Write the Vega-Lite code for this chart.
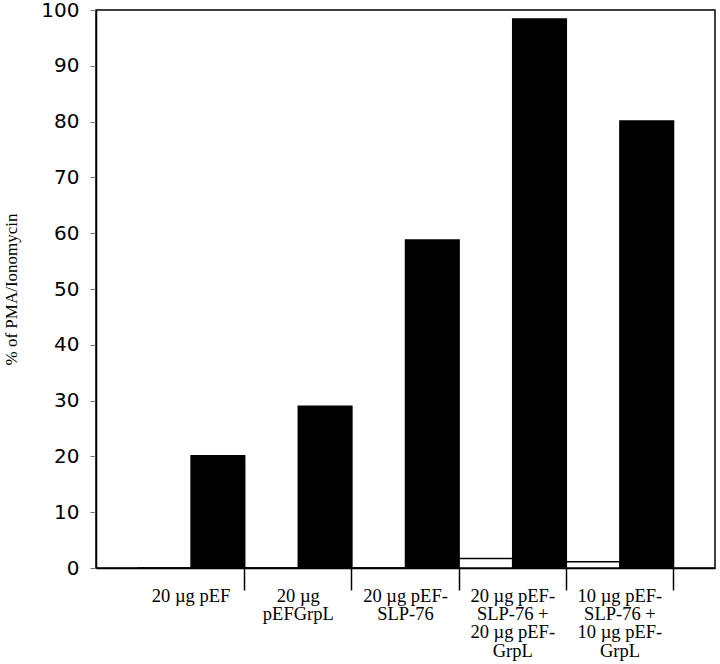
{
  "$schema": "https://vega.github.io/schema/vega-lite/v6.json",
  "width": 619,
  "height": 558,
  "autosize": "none",
  "padding": {"left": 96, "top": 10, "right": 5, "bottom": 96},
  "background": "white",
  "config": {"view": {"stroke": "black", "strokeWidth": 1.5}},
  "data": {
    "values": [
      {"construct": "20 µg pEF", "series": "control", "percent": 0},
      {"construct": "20 µg pEF", "series": "treated", "percent": 20.1},
      {"construct": "20 µg\npEFGrpL", "series": "control", "percent": 0},
      {"construct": "20 µg\npEFGrpL", "series": "treated", "percent": 29},
      {"construct": "20 µg pEF-\nSLP-76", "series": "control", "percent": 0},
      {"construct": "20 µg pEF-\nSLP-76", "series": "treated", "percent": 58.8},
      {"construct": "20 µg pEF-\nSLP-76 +\n20 µg pEF-\nGrpL", "series": "control", "percent": 1.7},
      {"construct": "20 µg pEF-\nSLP-76 +\n20 µg pEF-\nGrpL", "series": "treated", "percent": 98.4},
      {"construct": "10 µg pEF-\nSLP-76 +\n10 µg pEF-\nGrpL", "series": "control", "percent": 1.1},
      {"construct": "10 µg pEF-\nSLP-76 +\n10 µg pEF-\nGrpL", "series": "treated", "percent": 80.1}
    ]
  },
  "mark": {"type": "bar", "stroke": "black", "strokeWidth": 1.5},
  "encoding": {
    "x": {
      "field": "construct",
      "type": "nominal",
      "sort": null,
      "scale": {"paddingInner": 0, "paddingOuter": 0.387},
      "axis": {
        "title": null,
        "bandPosition": 1,
        "labelDx": -53.6,
        "labelExpr": "split(datum.label, '\\n')",
        "labelFont": "Liberation Serif",
        "labelFontSize": 18.5,
        "labelLineHeight": 18.4,
        "labelColor": "black",
        "labelAngle": 0,
        "labelPadding": -4,
        "labelBaseline": "top",
        "tickSize": 22,
        "tickColor": "black",
        "tickWidth": 1.5,
        "domainColor": "black",
        "domainWidth": 1.5
      }
    },
    "xOffset": {"field": "series", "sort": ["control", "treated"]},
    "y": {
      "field": "percent",
      "type": "quantitative",
      "scale": {"domain": [0, 100], "nice": false},
      "axis": {
        "title": "% of PMA/Ionomycin",
        "titleFont": "Liberation Serif",
        "titleFontSize": 17,
        "titleFontWeight": "normal",
        "titleColor": "black",
        "titlePadding": 20,
        "values": [0, 10, 20, 30, 40, 50, 60, 70, 80, 90, 100],
        "labelFont": "DejaVu Sans",
        "labelFontSize": 20,
        "labelColor": "black",
        "labelPadding": 11,
        "tickSize": 6,
        "tickColor": "#777",
        "grid": false,
        "domainColor": "black",
        "domainWidth": 1.5
      }
    },
    "fill": {
      "field": "series",
      "type": "nominal",
      "scale": {"domain": ["control", "treated"], "range": ["white", "black"]},
      "legend": null
    }
  }
}
